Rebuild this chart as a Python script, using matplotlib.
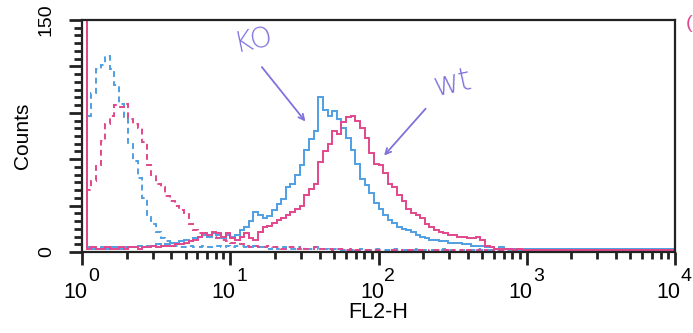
import numpy as np
import matplotlib
matplotlib.use("Agg")
import matplotlib.pyplot as plt
import matplotlib.transforms as mtransforms
from matplotlib.ticker import FixedLocator, LogLocator, NullFormatter

plt.rcParams['font.family'] = ['Liberation Sans', 'DejaVu Sans']

# histogram: 128 log channels over 4 decades (32 per decade)
n_channels = 128
decades = 4
decade_ticks = [1, 10, 100, 1000, 10000]
decade_exps = ['0', '1', '2', '3', '4']

# isotype controls (dashed)
iso_ko = [160, 88, 103, 118, 121, 127, 118, 108, 96, 87, 70, 59, 48, 35, 24, 18,
          13, 9, 7, 5, 4, 3, 3, 4, 3, 3, 4, 3, 4, 4, 3, 4,
          3, 4, 4, 3, 3, 4, 3, 3, 2, 3, 2, 3, 2, 2, 3, 2,
          2, 2, 3, 2, 2, 1, 2, 2, 1, 2, 1, 1, 2, 1, 1, 2,
          1, 1, 1, 2, 1, 1, 1, 1, 2, 1, 1, 1, 1, 1, 2, 1,
          1, 1, 1, 1, 1, 2, 1, 1, 1, 1, 1, 1, 1, 1, 1, 1,
          1, 1, 1, 1, 1, 1, 1, 1, 1, 1, 1, 1, 1, 1, 1, 1,
          1, 1, 1, 1, 1, 1, 1, 1, 1, 1, 1, 1, 1, 1, 1, 1]
iso_wt = [160, 40, 46, 56, 72, 83, 88, 95, 94, 96, 86, 83, 80, 71, 56, 50,
          44, 42, 36, 33, 30, 27, 25, 18, 14, 12, 11, 10, 10, 9, 8, 7,
          6, 5, 5, 4, 3, 4, 3, 3, 4, 3, 3, 2, 3, 3, 2, 3,
          2, 2, 3, 2, 2, 2, 1, 2, 2, 1, 2, 1, 1, 1, 1, 1,
          1, 0, 1, 1, 1, 0, 1, 1, 1, 1, 0, 1, 1, 1, 1, 0,
          1, 1, 0, 1, 1, 1, 0, 1, 1, 0, 1, 1, 0, 1, 0, 1,
          0, 1, 0, 0, 1, 0, 0, 1, 0, 0, 0, 1, 0, 0, 0, 0,
          0, 0, 0, 0, 0, 0, 0, 0, 0, 0, 0, 0, 0, 0, 0, 0]

# stained samples (solid)
ko = [160, 3, 2, 2, 3, 2, 3, 3, 2, 3, 3, 3, 4, 3, 4, 4,
      5, 4, 5, 6, 6, 7, 8, 7, 9, 10, 11, 10, 12, 11, 9, 11,
      10, 11, 14, 16, 20, 26, 24, 22, 23, 27, 31, 34, 42, 44, 50, 56,
      66, 73, 78, 100, 92, 88, 91, 86, 80, 74, 66, 57, 47, 43, 38, 32,
      28, 24, 21, 19, 16, 15, 14, 13, 11, 10, 9, 8, 8, 7, 7, 6,
      6, 6, 5, 5, 4, 4, 4, 3, 3, 2, 3, 2, 2, 2, 2, 2,
      2, 2, 2, 2, 2, 2, 2, 2, 2, 2, 2, 2, 2, 2, 2, 2,
      2, 2, 2, 2, 2, 2, 2, 2, 2, 2, 2, 2, 2, 2, 2, 2]
wt = [160, 2, 3, 2, 2, 3, 2, 2, 3, 2, 3, 3, 2, 3, 3, 4,
      3, 4, 4, 4, 5, 5, 6, 7, 8, 10, 12, 11, 13, 12, 10, 12,
      9, 8, 10, 12, 9, 8, 13, 16, 17, 19, 21, 22, 24, 26, 28, 30,
      37, 41, 44, 58, 65, 70, 78, 76, 84, 87, 88, 85, 80, 74, 64, 57,
      56, 51, 44, 42, 37, 33, 28, 25, 24, 22, 18, 16, 14, 13, 12, 11,
      11, 10, 10, 9, 9, 10, 8, 4, 3, 2, 2, 2, 2, 1, 2, 1,
      1, 1, 1, 1, 1, 1, 1, 1, 1, 1, 1, 1, 1, 1, 1, 1,
      1, 1, 1, 1, 1, 1, 1, 1, 1, 1, 1, 1, 1, 1, 1, 1]

blue = '#4f9fe3'
pink = '#e2478b'
ink = '#7f72dd'

edges = 10 ** (np.arange(n_channels + 1) * decades / n_channels)

fig = plt.figure(figsize=(6.93, 3.33), dpi=100)
ax = fig.add_axes([82 / 693, 81 / 333, 593 / 693, 232 / 333])

dash = (0, (3, 2.2))
ax.stairs(iso_ko, edges, color=blue, lw=1.4, linestyle=dash)
ax.stairs(iso_wt, edges, color=pink, lw=1.4, linestyle=dash)
ax.stairs(ko, edges, color=blue, lw=1.4)
ax.stairs(wt, edges, color=pink, lw=1.4)

ax.set_xscale('log')
ax.set_xlim(1, 1e4)
ax.set_ylim(0, 150)

for s in ax.spines.values():
    s.set_linewidth(1.6)
    s.set_color('#222222')

# x ticks (labels drawn by hand below, big superscripts like the original)
ax.xaxis.set_major_locator(FixedLocator(decade_ticks))
ax.xaxis.set_minor_locator(LogLocator(base=10, subs=np.arange(2, 10), numticks=20))
ax.xaxis.set_major_formatter(NullFormatter())
ax.xaxis.set_minor_formatter(NullFormatter())
ax.tick_params(axis='x', which='major', length=9, width=2, direction='out',
               color='#222222')
ax.tick_params(axis='x', which='minor', length=5, width=2, direction='out',
               color='#222222')

xform = ax.get_xaxis_transform()
for xv, e in zip(decade_ticks, decade_exps):
    base_tr = mtransforms.offset_copy(xform, fig=fig, x=4, y=-21.5, units='points')
    ax.text(xv, 0, '10', transform=base_tr, ha='right', va='top', fontsize=15.5)
    sup_tr = mtransforms.offset_copy(xform, fig=fig, x=4.3, y=-11.5, units='points')
    ax.text(xv, 0, e, transform=sup_tr, ha='left', va='top', fontsize=14)

# y ticks: labels only at 0 and 150
ax.yaxis.set_major_locator(FixedLocator([0, 30, 60, 90, 120, 150]))
ax.set_yticklabels(['0', '', '', '', '', '150'])
ax.yaxis.set_minor_locator(FixedLocator(np.arange(0, 151, 5)))
ax.tick_params(axis='y', which='major', length=9.5, width=2, direction='out',
               labelsize=14, pad=10, color='#222222')
ax.tick_params(axis='y', which='minor', length=6, width=2, direction='out',
               color='#222222')
for lab in ax.get_yticklabels():
    lab.set_rotation(90)
    lab.set_va('center')

ax.set_xlabel('FL2-H', fontsize=15.5, va='top')
ax.xaxis.set_label_coords(0.5, -0.215)
ax.set_ylabel('Counts', fontsize=15, labelpad=4)

# handwritten notes
ax.text(14.3, 137, 'KO', color=ink, fontsize=20, rotation=12,
        ha='center', va='center', family='DejaVu Sans', fontweight='light')
ax.annotate('', xy=(33, 83), xytext=(15.9, 121),
            arrowprops=dict(arrowstyle='->', color=ink, lw=1.3))
ax.text(320, 109, 'wt', color=ink, fontsize=23, rotation=12,
        ha='center', va='center', family='DejaVu Sans', fontweight='light')
ax.annotate('', xy=(106, 61), xytext=(214, 94),
            arrowprops=dict(arrowstyle='->', color=ink, lw=1.3))
fig.text(0.999, 0.93, '(', color=pink, fontsize=14, ha='right', va='center')

fig.savefig('out.png', dpi=100)
